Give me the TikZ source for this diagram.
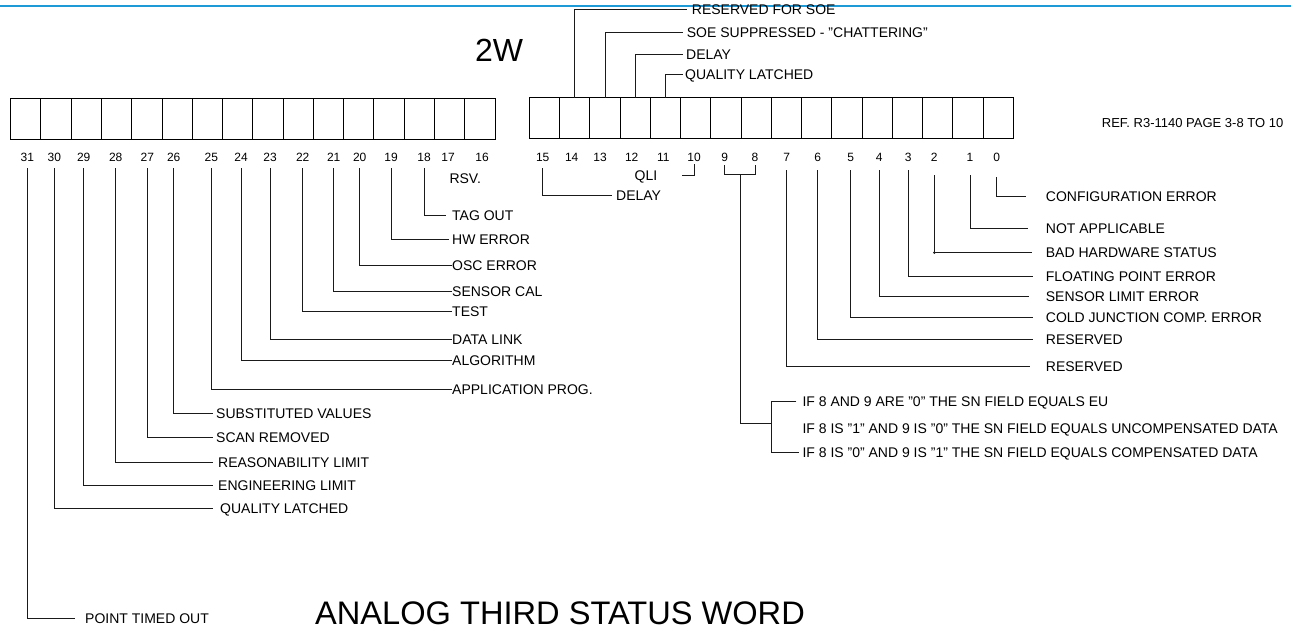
\documentclass[tikz,border=0pt]{standalone}
\usepackage{fontspec}
\setmainfont{Liberation Sans}
\usetikzlibrary{arrows.meta, positioning, calc}
\definecolor{rulerblue}{HTML}{1E9BD7}
\definecolor{inkline}{HTML}{1A1A1A}
\newcommand{\bitno}[2]{%
  \node[font=\fontsize{12}{12}\selectfont, inner sep=0pt, outer sep=7pt,
        text height=8.6pt, text depth=0pt] (b#1) at (#2,157) {#1};}
\newcommand{\flaglabel}[4]{%
  \node[anchor=west, inner sep=0pt, text height=10pt, text depth=0pt]
       (#1) at (#2,#3) {#4};}

\begin{document}
\begin{tikzpicture}[x=1pt, y=-1pt, font=\fontsize{14}{14}\selectfont,
    regcell/.style={draw=black, line width=1pt, minimum width=30.27pt,
                    minimum height=41pt, inner sep=0pt, outer sep=0pt},
    leader/.style={draw=inkline, line width=0.8pt}]
  \useasboundingbox (0,0) rectangle (1291,629);
  \draw[rulerblue, line width=2.2pt] (0,6) -- (1291,6);

  % the two 16-bit halves
  \foreach \k in {0,...,15}{
    \pgfmathtruncatemacro{\hi}{31-\k}
    \pgfmathtruncatemacro{\lo}{15-\k}
    \node[regcell] (c\hi) at ({10.7+30.27*(\k+0.5)},119.2) {};
    \node[regcell] (c\lo) at ({529.3+30.25*(\k+0.5)},118) {};
  }
  \foreach \b/\x in {31/27.3, 30/54.3, 29/83.7, 28/115.7, 27/147.3, 26/173.7,
                     25/211.3, 24/241, 23/270, 22/302.7, 21/333.7, 20/359.7,
                     19/391, 18/424, 17/448, 16/482,
                     15/542.7, 14/571.7, 13/600, 12/631.7, 11/663.3, 10/694,
                     9/724.7, 8/755, 7/786.7, 6/817.7, 5/850.7, 4/879.3,
                     3/908.3, 2/934.3, 1/970, 0/996.7}
    {\bitno{\b}{\x}}

  \node[font=\fontsize{32}{32}\selectfont, anchor=base west, inner sep=0pt]
       (wordtag) at (475,61.7) {2W};
  \node[font=\fontsize{13}{13}\selectfont, anchor=west, inner sep=0pt]
       (refnote) at (1101.7,123) {REF. R3-1140 PAGE 3-8 TO 10};
  \node[font=\fontsize{32.6}{33}\selectfont, anchor=base west, inner sep=0pt]
       (title) at (315,624.5) {ANALOG THIRD STATUS WORD};
  \flaglabel{rsv}{449.3}{178.3}{RSV.}

  % upper word, bits 31..18
  \flaglabel{tagout}{452}{215}{TAG OUT}
  \flaglabel{hwerr}{452}{239}{HW ERROR}
  \flaglabel{oscerr}{452}{265.5}{OSC ERROR}
  \flaglabel{sensorcal}{452}{291}{SENSOR CAL}
  \flaglabel{test}{452}{311}{TEST}
  \flaglabel{datalink}{452}{339}{DATA LINK}
  \flaglabel{algorithm}{452}{360.5}{ALGORITHM}
  \flaglabel{appprog}{452}{389}{APPLICATION PROG.}
  \flaglabel{substval}{216}{413}{SUBSTITUTED VALUES}
  \flaglabel{scanrem}{216}{437}{SCAN REMOVED}
  \flaglabel{reaslim}{218}{462.5}{REASONABILITY LIMIT}
  \flaglabel{englim}{218}{485.5}{ENGINEERING LIMIT}
  \flaglabel{qualatch}{220}{508}{QUALITY LATCHED}
  \flaglabel{timedout}{85}{618}{POINT TIMED OUT}
  \foreach \b/\n/\g in {18/tagout/6, 19/hwerr/3, 20/oscerr/0, 21/sensorcal/0,
                        22/test/0, 23/datalink/0, 24/algorithm/0, 25/appprog/0,
                        26/substval/3, 27/scanrem/3, 28/reaslim/5, 29/englim/5,
                        30/qualatch/7, 31/timedout/10}
    \draw[leader, shorten >=\g pt] (b\b.south) |- (\n.west);

  % lower word, leaders above the cells
  \flaglabel{soersv}{691.7}{9.5}{RESERVED FOR SOE}
  \flaglabel{soesupp}{686.7}{32.5}{SOE SUPPRESSED - "CHATTERING"}
  \flaglabel{dlytop}{686}{54.5}{DELAY}
  \flaglabel{qltop}{685}{74.5}{QUALITY LATCHED}
  \foreach \b/\n/\g in {14/soersv/5, 13/soesupp/4, 12/dlytop/3, 11/qltop/2}
    \draw[leader, shorten >=\g pt] (c\b.north) |- (\n.west);

  % lower word, leaders below the numbers
  \flaglabel{dlybot}{616}{195}{DELAY}
  \draw[leader, shorten >=4pt] (b15.south) |- (dlybot.west);
  \node[inner sep=0pt, text height=10pt, text depth=0pt] (qli) at (646,175) {QLI};
  \draw[leader, shorten <=-4pt, shorten >=25pt] (b10.south) |- (qli.east);

  \flaglabel{cfgerr}{1045.7}{196}{CONFIGURATION ERROR}
  \flaglabel{notappl}{1045.7}{228.5}{NOT APPLICABLE}
  \flaglabel{badhw}{1045.7}{252.7}{BAD HARDWARE STATUS}
  \flaglabel{floaterr}{1045.7}{276.5}{FLOATING POINT ERROR}
  \flaglabel{senslim}{1045.7}{296}{SENSOR LIMIT ERROR}
  \flaglabel{coldjunc}{1045.7}{317}{COLD JUNCTION COMP. ERROR}
  \flaglabel{rsvsix}{1045.7}{339.7}{RESERVED}
  \flaglabel{rsvseven}{1045.7}{366.3}{RESERVED}
  \foreach \b/\n/\s/\g in {0/cfgerr/9/19.7, 1/notappl/7/17.4, 2/badhw/7/14,
                           3/floaterr/2/12.7, 4/senslim/2/16.4,
                           5/coldjunc/2/12.7, 6/rsvsix/2/12.7, 7/rsvseven/2/15.7}
    \draw[leader, shorten <=\s pt, shorten >=\g pt] (b\b.south) |- (\n.west);
  \fill[inkline] (b2.south |- badhw.west) circle (1.3pt);

  % bits 9 and 8 together
  \coordinate (fork) at (740,174.3);
  \coordinate (split) at (771.7,423.3);
  \draw[leader, shorten <=-3pt, shorten >=-3pt] (b9.south) |- (fork) -| (b8.south);
  \draw[leader] (fork) |- (split);
  \flaglabel{snfeu}{802.3}{401.2}{IF 8 AND 9 ARE "0" THE SN FIELD EQUALS EU}
  \flaglabel{snfunc}{802.3}{428.3}{IF 8 IS "1" AND 9 IS "0" THE SN FIELD EQUALS UNCOMPENSATED DATA}
  \flaglabel{snfcomp}{802.3}{452.5}{IF 8 IS "0" AND 9 IS "1" THE SN FIELD EQUALS COMPENSATED DATA}
  \draw[leader, shorten <=6pt, shorten >=3pt] (snfeu.west) -| (split) |- (snfcomp.west);
\end{tikzpicture}
\end{document}
